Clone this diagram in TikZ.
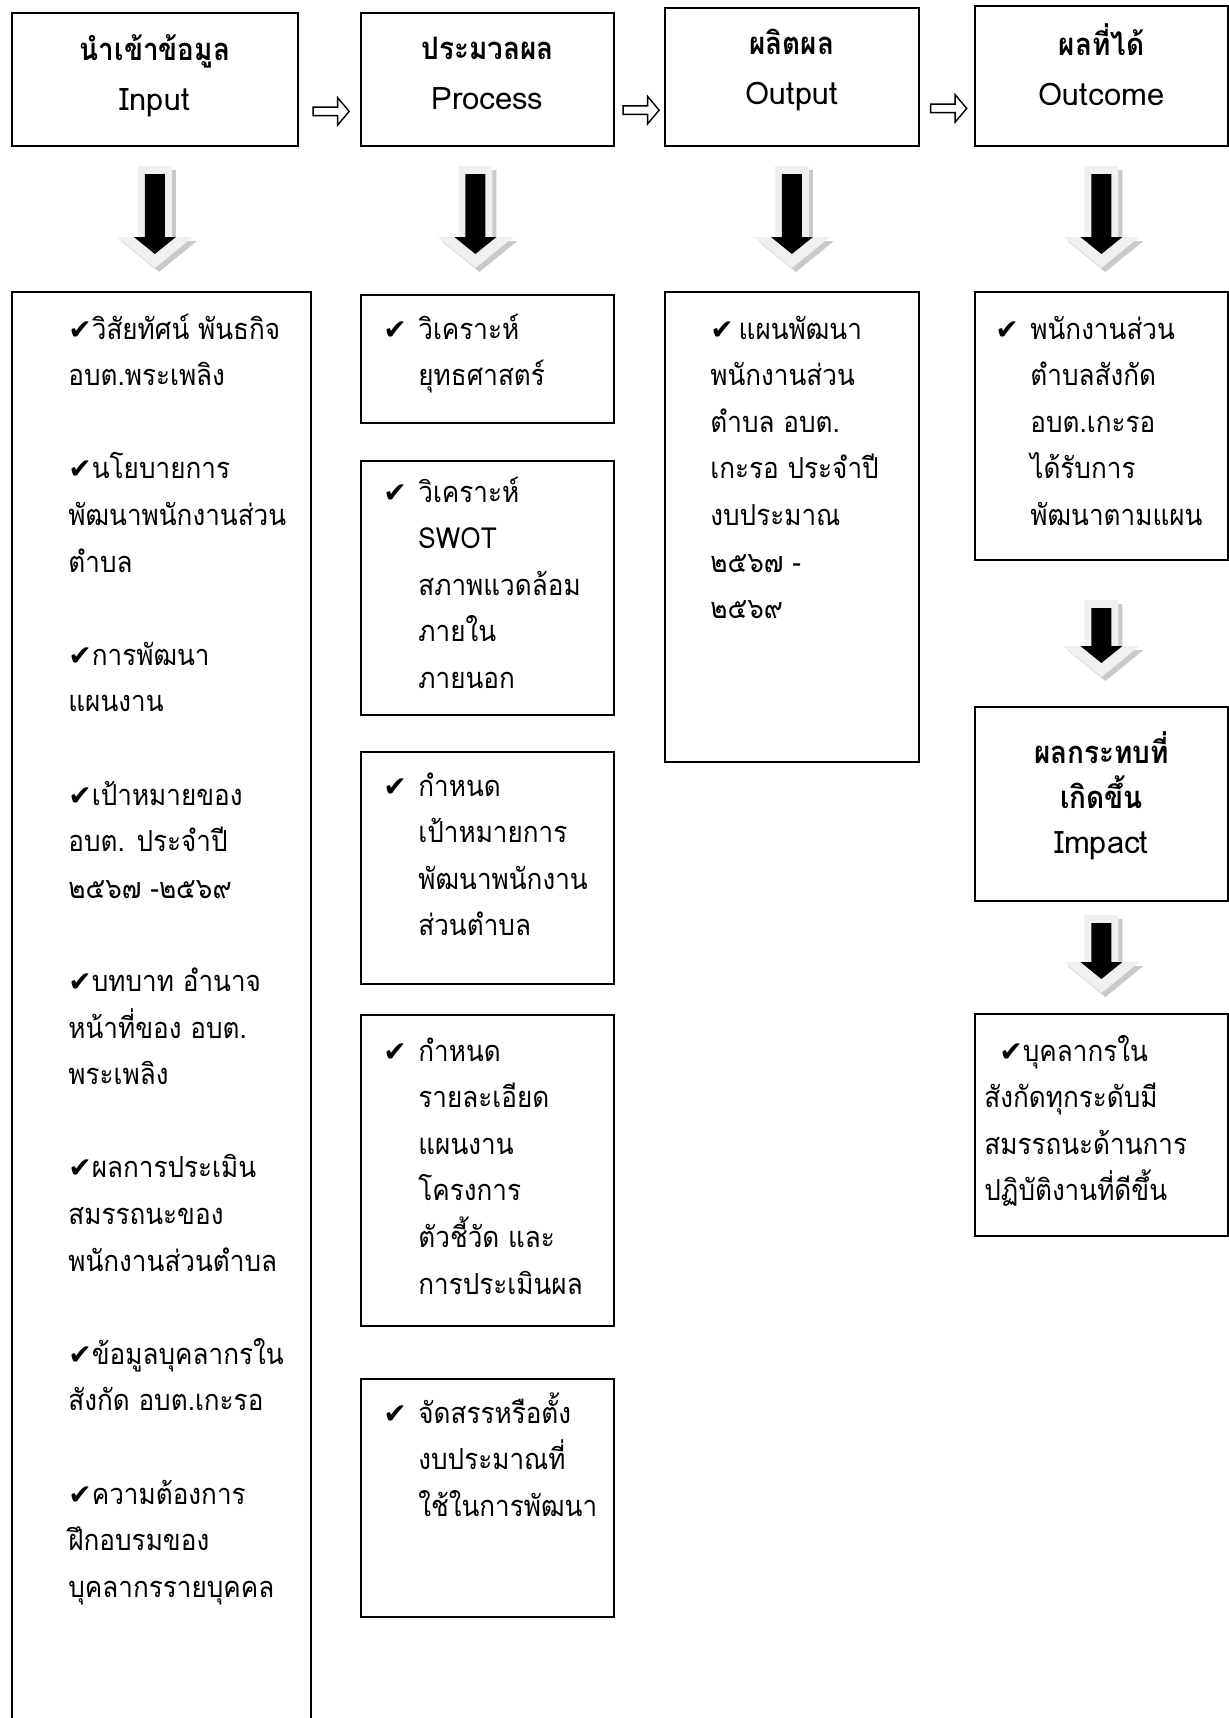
\documentclass[tikz,border=0pt]{standalone}
\usepackage{fontspec}
\setmainfont[Script=Thai]{Loma}
\newfontfamily\listfont[Script=Thai,FakeStretch=0.9]{Loma}
\newfontfamily\symfont{DejaVu Sans}
\usetikzlibrary{positioning,calc,shapes.arrows}

\newcommand\chk{\strut{\symfont\fontsize{14}{14}\selectfont ✔}}
\newcommand\chkbox{\makebox[17.5pt][l]{\chk}}
\newcommand\chkind{\hspace*{17.5pt}}

\begin{document}
\begin{tikzpicture}[x=0.5pt,y=-0.5pt,
    box/.style={draw, line width=0.9pt, inner sep=0pt, anchor=north west},
    titletext/.style={inner sep=0pt, align=center, font=\fontsize{15.5}{25}\selectfont},
    listtext/.style={anchor=north west, inner sep=0pt, align=left, font=\listfont\fontsize{14.5}{23.3}\selectfont},
    flow/.style={single arrow, draw, fill=white, line width=0.7pt, inner sep=1.75pt,
        single arrow head extend=4.75pt, single arrow tip angle=100, minimum height=18pt}]

\useasboundingbox (0,0) rectangle (1229,1718);

% Верхний ряд
\node[box, minimum width=143pt, minimum height=66.5pt] (input) at (11,12) {};
\node[box, minimum width=126.5pt, minimum height=66.5pt] (process) at (360,12) {};
\node[box, minimum width=127pt, minimum height=69pt] (output) at (664,7) {};
\node[box, minimum width=126.5pt, minimum height=70pt] (outcome) at (974,5) {};
\node[titletext] (inputtitle) at ([yshift=1.9pt]input.center) {{\listfont\bfseries นำเข้าข้อมูล}\\Input};
\node[titletext] (processtitle) at ([yshift=3pt]process.center) {{\listfont\bfseries ประมวลผล}\\Process};
\node[titletext] (outputtitle) at ([yshift=3.25pt]output.center) {{\listfont\bfseries ผลิตผล}\\Output};
\node[titletext] (outcometitle) at ([yshift=5.5pt]outcome.center) {{\listfont\bfseries ผลที่ได้}\\Outcome};

% Стрелки между блоками
\node[flow] (f1) at ($(input.east)!0.5!(process.west)+(0,32)$) {};
\node[flow] (f2) at ($(process.east)!0.5!(output.west)+(0,32)$) {};
\node[flow] (f3) at ($(output.east)!0.5!(outcome.west)+(0,32)$) {};

% Рамки
\node[box, minimum width=149.5pt, minimum height=740pt] (inlist) at (11,291) {};
\node[box, minimum width=126.5pt, minimum height=64pt] (p1) at (360,294) {};
\node[box, minimum width=126.5pt, minimum height=127pt] (p2) at (360,460) {};
\node[box, minimum width=126.5pt, minimum height=116pt] (p3) at (360,751) {};
\node[box, minimum width=126.5pt, minimum height=155.5pt] (p4) at (360,1014) {};
\node[box, minimum width=126.5pt, minimum height=119pt] (p5) at (360,1378) {};
\node[box, minimum width=127pt, minimum height=235pt] (outlist) at (664,291) {};
\node[box, minimum width=126.5pt, minimum height=134pt] (oclist) at (974,291) {};
\node[box, minimum width=126.5pt, minimum height=97pt] (impact) at (974,706) {};
\node[titletext, font=\fontsize{15.5}{22.5}\selectfont] (impacttitle) at ([yshift=4pt]impact.center)
    {{\listfont\bfseries ผลกระทบที่}\\{\listfont\bfseries เกิดขึ้น}\\Impact};
\node[box, minimum width=126.5pt, minimum height=111pt] (final) at (974,1013) {};

% Тексты
\node[listtext] (intext) at (68,306) {\chk วิสัยทัศน์ พันธกิจ\\
    อบต.พระเพลิง\\[23.3pt]
    \chk นโยบายการ\\
    พัฒนาพนักงานส่วน\\
    ตำบล\\[23.3pt]
    \chk การพัฒนา\\
    แผนงาน\\[23.3pt]
    \chk เป้าหมายของ\\
    อบต. ประจำปี\\
    ๒๕๖๗ -๒๕๖๙\\[23.3pt]
    \chk บทบาท อำนาจ\\
    หน้าที่ของ อบต.\\
    พระเพลิง\\[23.3pt]
    \chk ผลการประเมิน\\
    สมรรถนะของ\\
    พนักงานส่วนตำบล\\[23.3pt]
    \chk ข้อมูลบุคลากรใน\\
    สังกัด อบต.เกะรอ\\[23.3pt]
    \chk ความต้องการ\\
    ฝึกอบรมของ\\
    บุคลากรรายบุคคล};
\node[listtext] (p1text) at (383,306) {\chkbox วิเคราะห์\\ \chkind ยุทธศาสตร์};
\node[listtext] (p2text) at (383,469) {\chkbox วิเคราะห์\\ \chkind SWOT\\ \chkind สภาพแวดล้อม\\ \chkind ภายใน\\ \chkind ภายนอก};
\node[listtext] (p3text) at (383,763) {\chkbox กำหนด\\ \chkind เป้าหมายการ\\ \chkind พัฒนาพนักงาน\\ \chkind ส่วนตำบล};
\node[listtext] (p4text) at (383,1028) {\chkbox กำหนด\\ \chkind รายละเอียด\\ \chkind แผนงาน\\ \chkind โครงการ\\ \chkind ตัวชี้วัด และ\\ \chkind การประเมินผล};
\node[listtext] (p5text) at (383,1390) {\chkbox จัดสรรหรือตั้ง\\ \chkind งบประมาณที่\\ \chkind ใช้ในการพัฒนา};
\node[listtext] (outtext) at (710,306) {\chk\,แผนพัฒนา\\
    พนักงานส่วน\\ ตำบล อบต.\\ เกะรอ ประจำปี\\ งบประมาณ\\ ๒๕๖๗ -\\ ๒๕๖๙};
\node[listtext] (octext) at (995,306) {\chkbox พนักงานส่วน\\ \chkind ตำบลสังกัด\\ \chkind อบต.เกะรอ\\ \chkind ได้รับการ\\ \chkind พัฒนาตามแผน};
\node[listtext] (finaltext) at (984,1028) {\hspace*{7.5pt}\chk บุคลากรใน\\
    สังกัดทุกระดับมี\\ สมรรถนะด้านการ\\ ปฏิบัติงานที่ดีขึ้น};

% Большие стрелки вниз
\foreach \n/\dx/\t/\b in {input/0/166/268, process/-12/166/268, output/0/166/268,
    outcome/0/166/268, oclist/0/600/677, impact/0/915/993} {
    \path (\n.south) ++(\dx,0) coordinate (c);
    \pgfmathsetmacro\L{\b-\t}
    \begin{scope}[shift={(c |- 0,\t)}]
        \fill[gray!42, xshift=2pt, yshift=-2pt] (-17,0) -- (17,0) -- (17,\L-31) -- (38,\L-31)
            -- (0,\L) -- (-38,\L-31) -- (-17,\L-31) -- cycle;
        \fill[gray!12] (-17,0) -- (17,0) -- (17,\L-31) -- (38,\L-31)
            -- (0,\L) -- (-38,\L-31) -- (-17,\L-31) -- cycle;
        \fill[black] (-10,8) -- (10,8) -- (10,\L-31) -- (21,\L-31)
            -- (0,\L-14) -- (-21,\L-31) -- (-10,\L-31) -- cycle;
    \end{scope}
}

\end{tikzpicture}
\end{document}
